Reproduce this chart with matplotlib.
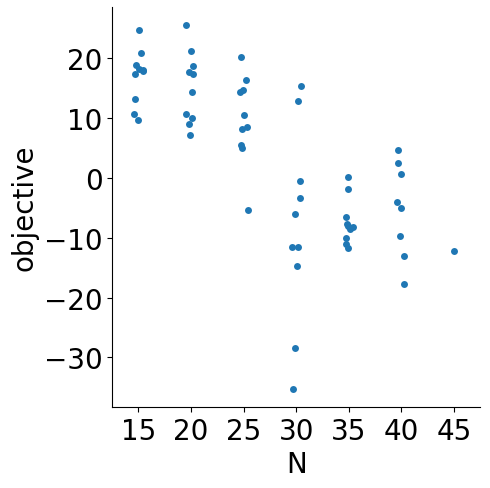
import numpy as np
import pandas as pd
import seaborn as sns
import matplotlib
matplotlib.use("Agg")
import matplotlib.pyplot as plt

# objective values, one list per N
n_15 = [24.6, 20.8, 18.8, 18.1, 18.0, 17.8, 17.3, 13.1, 10.6, 9.6]
n_20 = [25.5, 21.1, 18.6, 17.7, 17.3, 14.3, 10.6, 9.9, 8.9, 7.2]
n_25 = [20.1, 16.3, 14.6, 14.3, 10.4, 8.4, 8.1, 5.4, 4.9, -5.3]
n_30 = [15.4, 12.8, -0.6, -3.3, -6.0, -11.5, -11.5, -14.7, -28.4, -35.2]
n_35 = [0.2, -1.8, -6.6, -7.8, -8.1, -8.3, -8.6, -10.0, -11.0, -11.8]
n_40 = [4.6, 2.4, 0.7, -4.1, -5.1, -9.8, -13.0, -17.7]
n_45 = [-12.3]

groups = {15: n_15, 20: n_20, 25: n_25, 30: n_30, 35: n_35, 40: n_40, 45: n_45}
rows = [(n, v) for n, vals in groups.items() for v in vals]
df = pd.DataFrame(rows, columns=["N", "objective"])

plt.rcParams["font.size"] = 20
plt.rcParams["axes.labelsize"] = 20
plt.rcParams["xtick.labelsize"] = 20
plt.rcParams["ytick.labelsize"] = 20

np.random.seed(3)
g = sns.catplot(data=df, x="N", y="objective", kind="strip", height=5, aspect=1)
g.ax.set_yticks([-30, -20, -10, 0, 10, 20])
g.figure.set_size_inches(4.9, 4.89)
g.figure.subplots_adjust(left=0.229, right=0.98, bottom=0.166, top=0.984)

plt.savefig("out.png", dpi=100)
